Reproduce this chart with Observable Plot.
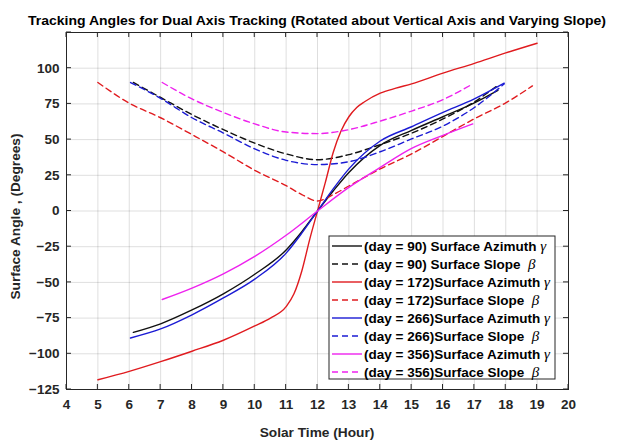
<!DOCTYPE html>
<html>
<head>
<meta charset="utf-8">
<script src="https://cdn.jsdelivr.net/npm/d3@7"></script>
<script src="https://cdn.jsdelivr.net/npm/@observablehq/plot@0.6"></script>
<style>
  html, body { margin: 0; padding: 0; background: #fff; }
  #chart svg { display: block; }
</style>
</head>
<body>
<div id="chart"></div>
<script>
const FONT = "'Liberation Sans', Arial, Helvetica, sans-serif";

// Axis ticks
const xTicks = [4, 5, 6, 7, 8, 9, 10, 11, 12, 13, 14, 15, 16, 17, 18, 19, 20];
const yTicks = [-125, -100, -75, -50, -25, 0, 25, 50, 75, 100];
const yGrid = [-125, -100, -75, -50, -25, 0, 25, 50, 75, 100, 125];

// Day 90: surface azimuth (gamma) and surface slope (beta), degrees vs solar time
const az90Hours = [6.13, 7, 8, 9, 10, 11, 11.5, 12, 12.5, 13, 14, 15, 16, 17, 17.75];
const az90 = [-85, -79, -69.3, -58, -44.3, -27.3, -14.5, 0, 14, 27, 46, 56.5, 66, 75.7, 84.5];
const slope90Hours = [6.13, 7, 8, 9, 10, 11, 12, 13, 14, 15, 16, 17, 17.75];
const slope90 = [90, 79.5, 67.5, 57, 47.5, 40, 35.9, 39.5, 46.5, 54.5, 64.5, 76.4, 88];

// Day 172
const az172Hours = [5, 6, 7, 8, 9, 10, 10.5, 11, 11.25, 11.5, 11.75, 12, 12.25, 12.5, 12.75, 13, 13.25, 13.5, 14, 14.5, 15, 16, 17, 18, 19];
const az172 = [-118.2, -112.3, -105.5, -98.2, -90.5, -80.5, -75, -67, -58, -42, -20, 0, 20, 41, 56, 66, 72.5, 76.5, 82.5, 86, 89, 96.5, 103.4, 110.7, 117.5];
const slope172Hours = [5, 6, 7, 8, 9, 10, 11, 11.5, 12, 12.5, 13, 14, 15, 16, 17, 18, 18.85];
const slope172 = [90, 75.5, 65.3, 53.5, 41.4, 28.5, 17.7, 11.5, 7, 11.5, 17.5, 29.5, 40, 52.3, 64.6, 75.7, 87.6];

// Day 266
const az266Hours = [6.04, 7, 8, 9, 10, 11, 11.5, 12, 12.5, 13, 14, 15, 16, 17, 17.95];
const az266 = [-88.9, -82.6, -72.7, -60.9, -47.7, -29.5, -15.5, 0, 15.5, 29.5, 49, 59, 69, 78.5, 89.5];
const slope266Hours = [6.04, 7, 8, 9, 10, 11, 12, 13, 14, 15, 16, 17, 17.95];
const slope266 = [90, 78.9, 65.3, 54.6, 43.5, 35.5, 32.5, 34.5, 41.5, 50.5, 59.5, 72.5, 89];

// Day 356
const az356Hours = [7.05, 8, 9, 10, 11, 12, 13, 14, 15, 16, 16.95];
const az356 = [-62, -54, -44, -31.8, -17, 0, 16.5, 30.5, 43.8, 53, 61];
const slope356Hours = [7.05, 8, 9, 10, 11, 12, 13, 14, 15, 16, 16.95];
const slope356 = [90, 78.5, 69, 61, 55.3, 54.2, 57, 63, 70, 78, 89];

const BLACK = "#111111", RED = "#e01b1f", BLUE = "#1b1bd4", MAGENTA = "#ee22ee";

const series = [
  {day: 90,  kind: "az",    hours: az90Hours,     values: az90,     color: BLACK},
  {day: 90,  kind: "slope", hours: slope90Hours,  values: slope90,  color: BLACK},
  {day: 172, kind: "az",    hours: az172Hours,    values: az172,    color: RED},
  {day: 172, kind: "slope", hours: slope172Hours, values: slope172, color: RED},
  {day: 266, kind: "az",    hours: az266Hours,    values: az266,    color: BLUE},
  {day: 266, kind: "slope", hours: slope266Hours, values: slope266, color: BLUE},
  {day: 356, kind: "az",    hours: az356Hours,    values: az356,    color: MAGENTA},
  {day: 356, kind: "slope", hours: slope356Hours, values: slope356, color: MAGENTA}
];

const legendText = [
  ["(day = 90) Surface Azimuth", "\u03B3"],
  ["(day = 90) Surface Slope", "\u03B2"],
  ["(day = 172)Surface Azimuth", "\u03B3"],
  ["(day = 172)Surface Slope", "\u03B2"],
  ["(day = 266)Surface Azimuth", "\u03B3"],
  ["(day = 266)Surface Slope", "\u03B2"],
  ["(day = 356)Surface Azimuth", "\u03B3"],
  ["(day = 356)Surface Slope", "\u03B2"]
];

const DASH = "6,4";

const lineMarks = series.map(s => Plot.line(
  s.hours.map((h, i) => ({hour: h, angle: s.values[i]})),
  {
    x: "hour", y: "angle",
    stroke: s.color, strokeWidth: 1.4,
    strokeDasharray: s.kind === "slope" ? DASH : null,
    curve: "monotone-x"
  }
));

const W = 621, H = 445;
const M = {left: 66, right: 53, top: 32, bottom: 56};

const plot = Plot.plot({
  width: W, height: H,
  marginLeft: M.left, marginRight: M.right, marginTop: M.top, marginBottom: M.bottom,
  style: {fontFamily: FONT, background: "#fff", overflow: "visible"},
  x: {domain: [4, 20], ticks: xTicks, label: null},
  y: {domain: [-125, 125], ticks: yTicks, label: null},
  marks: [
    Plot.gridX(xTicks, {stroke: "#000", strokeOpacity: 0.13}),
    Plot.gridY(yGrid, {stroke: "#000", strokeOpacity: 0.13}),
    Plot.axisX(xTicks, {tickSize: 0, tickPadding: 10, fontSize: 13.5, fontWeight: "bold", fill: "#262626"}),
    Plot.axisY(yTicks, {tickSize: 0, tickPadding: 7, fontSize: 13.5, fontWeight: "bold", fill: "#262626"}),
    ...lineMarks,
    Plot.frame({stroke: "#262626", strokeWidth: 1})
  ]
});

const svg = d3.select(plot);
const sx = plot.scale("x"), sy = plot.scale("y");
const boxLeft = M.left, boxRight = W - M.right, boxTop = M.top, boxBottom = H - M.bottom;
const TICK = 5;

// inward ticks on all four sides of the box
const tg = svg.append("g").attr("stroke", "#262626").attr("stroke-width", 1);
xTicks.forEach(v => {
  const px = sx.apply(v);
  tg.append("line").attr("x1", px).attr("x2", px).attr("y1", boxBottom).attr("y2", boxBottom - TICK);
  tg.append("line").attr("x1", px).attr("x2", px).attr("y1", boxTop).attr("y2", boxTop + TICK);
});
yGrid.forEach(v => {
  const py = sy.apply(v);
  tg.append("line").attr("y1", py).attr("y2", py).attr("x1", boxLeft).attr("x2", boxLeft + TICK);
  tg.append("line").attr("y1", py).attr("y2", py).attr("x1", boxRight).attr("x2", boxRight - TICK);
});

// title
svg.append("text")
  .attr("x", (boxLeft + boxRight) / 2).attr("y", 25)
  .attr("text-anchor", "middle")
  .attr("font-family", FONT).attr("font-size", 13.5).attr("font-weight", "bold")
  .attr("fill", "#000")
  .attr("textLength", 578).attr("lengthAdjust", "spacingAndGlyphs")
  .text("Tracking Angles for Dual Axis Tracking (Rotated about Vertical Axis and Varying Slope)");

// axis labels
svg.append("text")
  .attr("x", (boxLeft + boxRight) / 2).attr("y", 437)
  .attr("text-anchor", "middle")
  .attr("font-family", FONT).attr("font-size", 13.7).attr("font-weight", "bold")
  .attr("fill", "#262626")
  .text("Solar Time (Hour)");

svg.append("text")
  .attr("transform", `translate(20,${(boxTop + boxBottom) / 2 + 6}) rotate(-90)`)
  .attr("text-anchor", "middle")
  .attr("font-family", FONT).attr("font-size", 13.7).attr("font-weight", "bold")
  .attr("fill", "#262626")
  .text("Surface Angle , (Degrees)");

// legend
const lg = svg.append("g").attr("transform", "translate(329,236)");
lg.append("rect").attr("width", 226).attr("height", 143)
  .attr("fill", "#fff").attr("stroke", "#262626").attr("stroke-width", 1);
series.forEach((s, i) => {
  const cy = 10 + i * 18;
  lg.append("line").attr("x1", 3).attr("x2", 33).attr("y1", cy).attr("y2", cy)
    .attr("stroke", s.color).attr("stroke-width", 1.4)
    .attr("stroke-dasharray", s.kind === "slope" ? DASH : null);
  const t = lg.append("text").attr("x", 35).attr("y", cy + 5)
    .attr("text-anchor", "start")
    .attr("font-family", FONT).attr("font-size", 13.5).attr("font-weight", "bold")
    .attr("fill", "#000").style("white-space", "pre");
  t.append("tspan").text(legendText[i][0] + (s.kind === "slope" ? "  " : " "));
  t.append("tspan")
    .attr("font-family", "'Liberation Serif', 'DejaVu Serif', serif")
    .attr("font-style", "italic").attr("font-weight", "normal").attr("font-size", 15)
    .text(legendText[i][1]);
});

document.getElementById("chart").appendChild(plot);
</script>
</body>
</html>
